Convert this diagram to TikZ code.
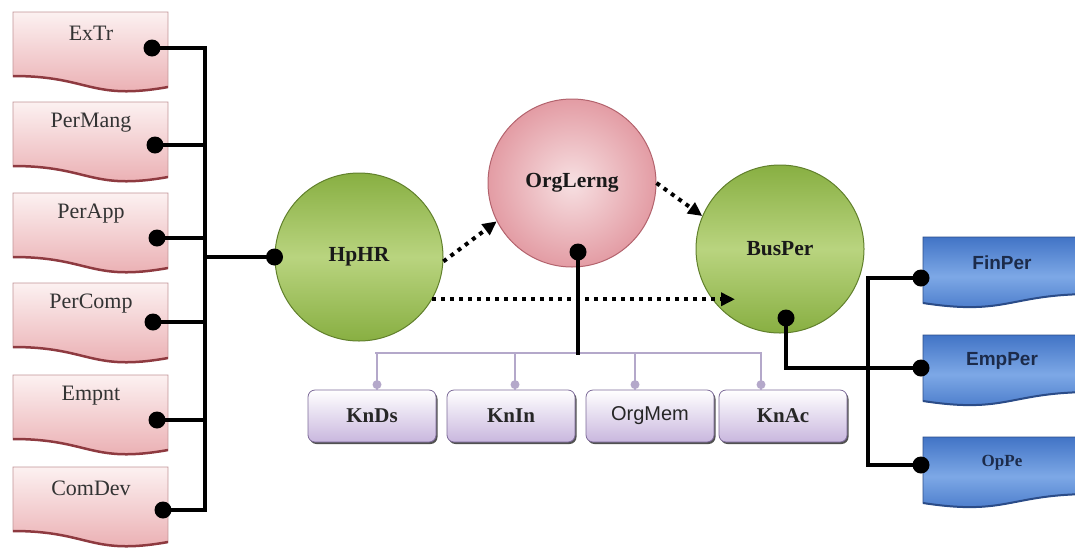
\documentclass[tikz,border=0pt]{standalone}
\usepackage{fontspec}
\setmainfont{Liberation Serif}
\newfontfamily\sansfont{Liberation Sans}
\usetikzlibrary{arrows.meta,shadows}

\definecolor{pinkhi}{HTML}{FCF1F1}
\definecolor{pinklo}{HTML}{E9A9AD}
\definecolor{pinkedge}{HTML}{8E3A40}
\definecolor{greenhi}{HTML}{B9D47F}
\definecolor{greenlo}{HTML}{88AF42}
\definecolor{greenedge}{HTML}{61802C}
\definecolor{rosehi}{HTML}{F7E0E2}
\definecolor{roselo}{HTML}{E39CA4}
\definecolor{roseedge}{HTML}{B3636D}
\definecolor{bluehi}{HTML}{7DA8E6}
\definecolor{bluelo}{HTML}{4274C6}
\definecolor{blueedge}{HTML}{2B4C88}
\definecolor{bluetext}{HTML}{1C2B4A}
\definecolor{lilaclo}{HTML}{C9B7DE}
\definecolor{lilacedge}{HTML}{7D6B99}
\definecolor{tickcol}{HTML}{B4A8CA}

\tikzset{
  conn/.style={line width=4pt, line cap=rect},
  dotarrow/.style={line width=4pt, dash pattern=on 4pt off 5pt, -{Triangle[length=14pt,width=13pt]}},
  ball/.style={circle, minimum size=168pt, inner sep=0pt, line width=1pt, text=black!90,
    font=\fontsize{21.5}{24}\selectfont\bfseries},
  greenball/.style={ball, draw=greenedge, top color=greenlo, bottom color=greenlo, middle color=greenhi},
  roseball/.style={ball, draw=roseedge, inner color=rosehi, outer color=roselo},
  lefttext/.style={text=black!80, font=\fontsize{22}{24}\selectfont},
  knbox/.style={rectangle, rounded corners=7pt, minimum width=128pt, minimum height=52pt,
    draw=lilacedge, line width=0.8pt, top color=white, bottom color=lilaclo, text=black!85,
    drop shadow={shadow xshift=1.5pt, shadow yshift=-2pt, opacity=0.85, fill=black!80}},
  tick/.style={tickcol, line width=2.5pt},
  righttext/.style={text=bluetext}
}

\begin{document}
\begin{tikzpicture}[x=1pt, y=-1pt]
  \useasboundingbox (0,0) rectangle (1075,547);
  \clip (0,0) rectangle (1075,547);

  % left boxes
  \foreach \t/\dx/\dy/\txt [count=\i] in {12/152/36/ExTr, 102/155/43/PerMang, 193/157/45/PerApp,
      283/153/39/PerComp, 375/157/45/Empnt, 467/163/43/ComDev} {
    \path[top color=pinkhi, bottom color=pinklo, draw=pinkedge!55, line width=0.8pt]
      (13,\t) -- (168,\t) -- (168,\t+75) .. controls (90,\t+89) and (90,\t+64) .. (13,\t+64) -- cycle;
    \draw[pinkedge, line width=2.5pt] (168,\t+75) .. controls (90,\t+89) and (90,\t+64) .. (13,\t+64);
    \node[lefttext] (l\i) at (91,\t+21) {\txt};
    \coordinate (d\i) at (\dx,\t+\dy);
  }

  % right boxes
  \foreach \t/\dy/\txt/\fnt/\sz [count=\i] in {237/41/FinPer/\sansfont/19, 335/33/EmpPer/\sansfont/19, 437/28/OpPe/\relax/17} {
    \path[top color=bluelo, bottom color=bluelo, middle color=bluehi, draw=blueedge, line width=0.8pt]
      (923,\t) -- (1093,\t) -- (1093,\t+57) .. controls (1008,\t+57) and (1008,\t+79) .. (923,\t+66) -- cycle;
    \draw[blueedge, line width=2pt] (1093,\t+57) .. controls (1008,\t+57) and (1008,\t+79) .. (923,\t+66);
    \node[righttext, font=\fontsize{\sz}{22}\selectfont\bfseries\fnt] (r\i) at (1002,\t+26) {\txt};
    \coordinate (rd\i) at (921,\t+\dy);
  }

  % circles
  \node[greenball] (hphr) at (359,257) {HpHR};
  \node[roseball] (orgl) at (572,183) {OrgLerng};
  \node[greenball] (busper) at (780,249) {BusPer};

  \draw[dotarrow] (hphr.-3) -- (orgl.207);
  \draw[dotarrow] (orgl.east) -- (busper.157);
  \coordinate (bpin) at (735,300);
  \draw[dotarrow] (hphr.-30) -- (hphr.-30 -| bpin);

  % left bus
  \coordinate (lbus) at (205,0);
  \foreach \i in {1,...,6} {
    \draw[conn] (d\i) -- (d\i -| lbus);
    \fill (d\i) circle (8.5pt);
  }
  \draw[conn] (d1 -| lbus) -- (d6 -| lbus);
  \draw[conn] (hphr.west -| lbus) -- (hphr.west);
  \fill (hphr.west) circle (8.5pt);

  % bottom tree
  \coordinate (treeL) at (375,353);
  \coordinate (treeR) at (762,353);
  \coordinate (orgdot) at (578,252);
  \draw[tick] (treeL) -- (treeR);
  \foreach \x/\dx/\txt/\fnt/\sz [count=\i] in {372/5/KnDs/\bfseries/21, 511/4/KnIn/\bfseries/21,
      650/-15/OrgMem/\sansfont/20, 783/-22/KnAc/\bfseries/21} {
    \node[knbox, font=\fontsize{\sz}{22}\selectfont\fnt] (k\i) at (\x,416) {\txt};
    \draw[tick] ([xshift=\dx pt]k\i.north) -- ([xshift=\dx pt]k\i.north |- treeL);
    \fill[tickcol] ([xshift=\dx pt, yshift=5pt]k\i.north) circle (4.5pt);
  }
  \draw[conn] (orgdot) -- (orgdot |- treeL);
  \fill (orgdot) circle (8.5pt);

  % right bus
  \coordinate (bpdot) at (786,318);
  \coordinate (rbus) at (868,0);
  \draw[conn] (bpdot) |- (rd2);
  \draw[conn] (rd1 -| rbus) -- (rd3 -| rbus);
  \draw[conn] (rd1 -| rbus) -- (rd1);
  \draw[conn] (rd3 -| rbus) -- (rd3);
  \fill (bpdot) circle (8.5pt);
  \foreach \i in {1,2,3} {
    \fill (rd\i) circle (8.5pt);
  }
\end{tikzpicture}
\end{document}
